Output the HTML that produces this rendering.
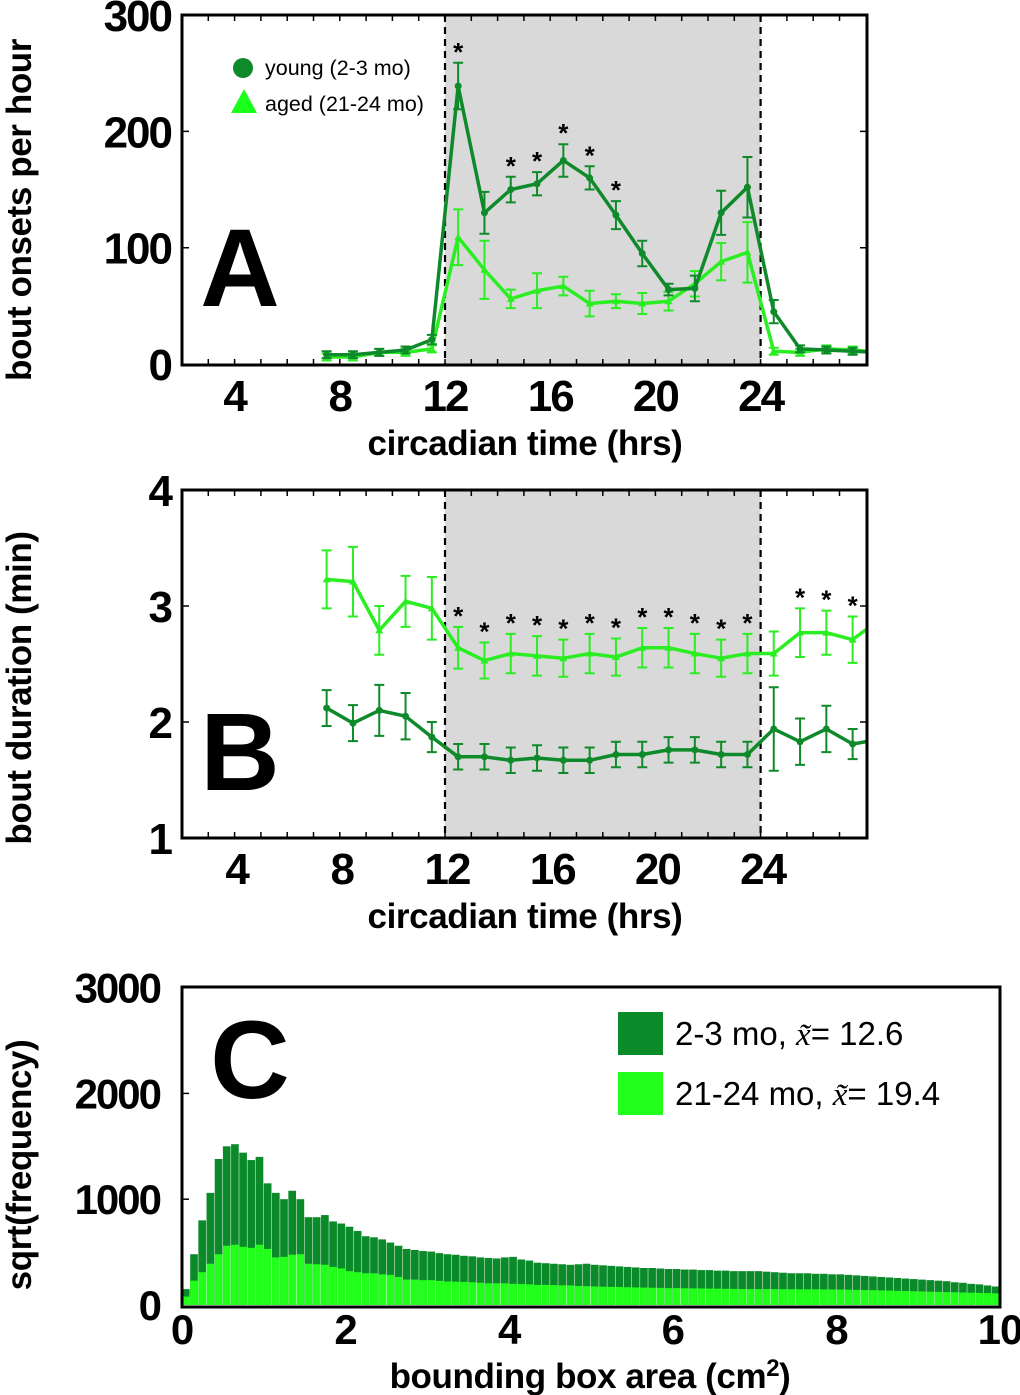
<!DOCTYPE html>
<html><head><meta charset="utf-8"><style>
html,body{margin:0;padding:0;background:#fff;}
svg{display:block;font-family:"Liberation Sans",Arial,sans-serif;}
.tk{font-weight:bold;font-size:44px;letter-spacing:-2px;}
.tt{font-weight:bold;font-size:35px;letter-spacing:-0.4px;}
</style></head><body>
<svg id="fig" width="1020" height="1395" viewBox="0 0 1020 1395" xmlns="http://www.w3.org/2000/svg">
<defs>
<clipPath id="clipA"><rect x="182" y="15" width="685" height="350"/></clipPath>
<clipPath id="clipB"><rect x="183" y="490" width="685" height="348"/></clipPath>
</defs>
<g id="panelA"></g>
<g id="panelB"></g>
<g id="panelC"></g>
</svg>
<script>
// ---- Panel A data ----
const hoursAB = [7.5,8.5,9.5,10.5,11.5,12.5,13.5,14.5,15.5,16.5,17.5,18.5,19.5,20.5,21.5,22.5,23.5,24.5,25.5,26.5,27.5,28.5];
const youngA = [8,8,10,12,21,239,130,150,155,175,160,128,95,64,65,130,152,45,13,12,11,10];
const youngAErr = [3,3,3,3,4,20,18,11,10,14,10,12,11,5,11,19,26,10,3,3,3,3];
const agedA = [6,6,10,10,13,109,81,56,63,67,52,54,52,54,69,88,96,11,10,13,12,10];
const agedAErr = [3,3,3,3,3,24,25,8,15,8,11,6,9,8,11,16,26,3,3,3,3,3];
const starsA = [12.5,14.5,15.5,16.5,17.5,18.5];
const yTicksA = [0,100,200,300];
const xTicks = [4,8,12,16,20,24];
// ---- Panel B data ----
const youngB = [2.12,1.99,2.10,2.05,1.87,1.70,1.70,1.67,1.69,1.67,1.67,1.72,1.72,1.76,1.76,1.72,1.72,1.94,1.83,1.94,1.81,1.85];
const youngBErr = [0.155,0.155,0.22,0.2,0.13,0.11,0.11,0.11,0.11,0.11,0.11,0.11,0.11,0.11,0.11,0.11,0.11,0.36,0.2,0.2,0.13,0.13];
const agedB = [3.23,3.21,2.79,3.04,2.98,2.64,2.53,2.59,2.57,2.55,2.59,2.56,2.64,2.64,2.59,2.55,2.59,2.59,2.77,2.77,2.71,2.88];
const agedBErr = [0.25,0.3,0.21,0.22,0.27,0.18,0.155,0.17,0.17,0.16,0.17,0.16,0.17,0.17,0.17,0.16,0.17,0.19,0.21,0.19,0.2,0.2];
const starsB = [12.5,13.5,14.5,15.5,16.5,17.5,18.5,19.5,20.5,21.5,22.5,23.5,25.5,26.5,27.5];
const yTicksB = [1,2,3,4];
// ---- Panel C data (bins of 0.1 cm^2) ----
const histYoung = [150,480,800,1060,1380,1500,1520,1440,1370,1400,1150,1060,1000,1080,1000,830,830,850,790,770,
740,700,650,640,620,590,560,530,520,510,505,490,480,475,465,460,450,445,440,450,
455,430,420,400,395,390,385,380,385,390,380,375,370,365,360,355,350,350,345,340,
340,335,335,330,330,325,325,320,320,320,320,315,310,305,300,300,300,295,295,290,
290,285,280,275,270,265,260,255,250,245,240,235,230,225,215,210,200,195,185,175];
const histAged = [80,230,310,390,480,560,570,550,540,570,530,450,455,475,480,390,385,380,360,345,
320,310,300,300,290,285,265,240,240,235,235,228,222,220,218,215,210,205,205,205,
200,198,195,190,190,188,186,185,180,178,175,173,171,170,168,166,165,163,162,160,
160,158,157,156,155,154,153,152,151,150,150,150,150,149,149,148,148,148,147,147,
146,145,143,141,140,138,136,134,132,130,128,126,124,122,120,118,116,114,112,110];
const yTicksC = [0,1000,2000,3000];
const xTicksC = [0,2,4,6,8,10];

const NS = "http://www.w3.org/2000/svg";
const DARK = "#0f8a2a", LIGHT = "#2aee22";
function mk(parent, tag, attrs, text){
  const e = document.createElementNS(NS, tag);
  for (const k in attrs) e.setAttribute(k, attrs[k]);
  if (text !== undefined) e.textContent = text;
  parent.appendChild(e);
  return e;
}
const xT = t => 182 + (t - 2) * 26.3;
const yA = v => 364 - v * 1.163;
const yB = v => 838 - (v - 1) * 116;
const xC = a => 182 + a * 81.8;
const yC = v => 1305 - v * 0.1058;

function timePanel(g, top, bot, yf, yticks, young, yErr, aged, aErr, stars, clipId, tickLabelDx, letter, letterY, ytitle, ytitleY){
  const L = 182, R = 867;
  let e;
  e = mk(g, "rect", {x: xT(12), y: top, width: xT(24) - xT(12), height: bot - top, fill: "#d9d9d9"});
  
  
  [12, 24].forEach(t => {
    e = mk(g, "line", {x1: xT(t), x2: xT(t), y1: top, y2: bot, stroke: "#000", "stroke-width": 2.2, "stroke-dasharray": "7,5"});
    
    
  });
  for (let t = 3; t <= 27; t++) {
    e = mk(g, "path", {d: `M${xT(t)},${bot}v-6M${xT(t)},${top}v6`, stroke: "#000", "stroke-width": 1.5});
    
    
  }
  yticks.forEach((v, i) => {
    if (i > 0 && i < yticks.length - 1) {
      e = mk(g, "path", {d: `M${L},${yf(v)}h7M${R},${yf(v)}h-7`, stroke: "#000", "stroke-width": 1.5});
      
      
    }
    e = mk(g, "text", {x: 171, y: yf(v) + 16, "text-anchor": "end", class: "tk"}, String(v));
    
    
  });
  xTicks.forEach(t => {
    e = mk(g, "text", {x: xT(t) + tickLabelDx, y: bot + 46, "text-anchor": "middle", class: "tk"}, String(t));
    
    
  });
  const series = [
    {vals: aged, err: aErr, col: LIGHT, name: 'aged'},
    {vals: young, err: yErr, col: DARK, name: 'young'}
  ];
  const sg = mk(g, "g", {"clip-path": `url(#${clipId})`});
  series.forEach(s => {
    s.vals.forEach((v, i) => {
      const x = xT(hoursAB[i]), y1 = yf(v + s.err[i]), y2 = yf(v - s.err[i]);
      e = mk(sg, "path", {d: `M${x},${y1}V${y2}M${x-5},${y1}h10M${x-5},${y2}h10`, stroke: s.col, "stroke-width": 2, fill: "none"});
      
      
    });
    const pts = s.vals.map((v, i) => `${xT(hoursAB[i])},${yf(v)}`).join(" ");
    e = mk(sg, "polyline", {points: pts, fill: "none", stroke: s.col, "stroke-width": 3.5, "stroke-linejoin": "round"});
    
    
    s.vals.forEach((v, i) => {
      const x = xT(hoursAB[i]), y = yf(v);
      if (s.name === 'young') e = mk(sg, "circle", {cx: x, cy: y, r: 3.5, fill: s.col});
      else e = mk(sg, "path", {d: `M${x},${y-4}l4,7h-8z`, fill: s.col});
      
      
    });
  });
  stars.forEach(t => {
    const i = hoursAB.indexOf(t);
    const top1 = Math.min(yf(young[i] + yErr[i]), yf(aged[i] + aErr[i]));
    e = mk(g, "text", {x: xT(t), y: top1 - 2, "text-anchor": "middle", "font-size": 26, "font-weight": "bold"}, "*");
    
    
  });
  e = mk(g, "rect", {x: L, y: top, width: R - L, height: bot - top, fill: "none", stroke: "#000", "stroke-width": 3});
  
  
  e = mk(g, "text", {x: 525, y: bot + 90, "text-anchor": "middle", class: "tt"}, "circadian time (hrs)");
  
  
  e = mk(g, "text", {x: 0, y: 0, "text-anchor": "middle", class: "tt", transform: `translate(31,${ytitleY}) rotate(-90)`}, ytitle);
  
  
  e = mk(g, "text", {x: 240, y: letterY, "text-anchor": "middle", "font-size": 110, "font-weight": "bold"}, letter);
  
  
}

const gA = document.getElementById("panelA");
timePanel(gA, 15, 365, yA, yTicksA, youngA, youngAErr, agedA, agedAErr, starsA, "clipA", 0, "A", 306, "bout onsets per hour", 210);
let le;
le = mk(gA, "circle", {cx: 243, cy: 68, r: 10, fill: DARK});


le = mk(gA, "text", {x: 265, y: 75, "font-size": 21.5}, "young (2-3 mo)");


le = mk(gA, "path", {d: "M244,89l13,24h-26z", fill: "#1aff1a"});


le = mk(gA, "text", {x: 265, y: 111, "font-size": 21.5}, "aged (21-24 mo)");



const gB = document.getElementById("panelB");
timePanel(gB, 490, 838, yB, yTicksB, youngB, youngBErr, agedB, agedBErr, starsB, "clipB", 2, "B", 790, "bout duration (min)", 688);

// ---- Panel C ----
const gC = document.getElementById("panelC");
let ce;
const bw = 0.1;
[{vals: histYoung, col: "#0b8a2a", name: 'young-bar'}, {vals: histAged, col: "#22ff1a", name: 'aged-bar'}].forEach(s => {
  s.vals.forEach((v, i) => {
    const x0 = xC(i * bw), x1 = xC((i + 1) * bw);
    ce = mk(gC, "rect", {x: x0, y: yC(v), width: x1 - x0 - 0.5, height: yC(0) - yC(v), fill: s.col});
    
    
  });
});
yTicksC.forEach((v, i) => {
  if (i > 0 && i < yTicksC.length - 1) {
    ce = mk(gC, "path", {d: `M182,${yC(v)}h7`, stroke: "#000", "stroke-width": 1.5});
    
    
  }
  ce = mk(gC, "text", {x: 160, y: yC(v) + 15, "text-anchor": "end", "font-size": 42, "font-weight": "bold", "letter-spacing": "-2"}, String(v));
  
  
});
xTicksC.forEach(a => {
  ce = mk(gC, "text", {x: xC(a), y: 1344, "text-anchor": "middle", "font-size": 42, "font-weight": "bold", "letter-spacing": "-1"}, String(a));
  
  
});
ce = mk(gC, "rect", {x: 182, y: 987, width: 818, height: 320, fill: "none", stroke: "#000", "stroke-width": 3});


ce = mk(gC, "text", {x: 590, y: 1388, "text-anchor": "middle", class: "tt"});


ce.innerHTML = 'bounding box area (cm<tspan dy="-12" font-size="24">2</tspan><tspan dy="12">)</tspan>';
ce = mk(gC, "text", {x: 0, y: 0, "text-anchor": "middle", class: "tt", transform: "translate(31,1165) rotate(-90)"}, "sqrt(frequency)");


ce = mk(gC, "text", {x: 250, y: 1098, "text-anchor": "middle", "font-size": 110, "font-weight": "bold"}, "C");


ce = mk(gC, "rect", {x: 618, y: 1012, width: 45, height: 43, fill: "#0b8a2a"});


ce = mk(gC, "rect", {x: 618, y: 1072, width: 45, height: 43, fill: "#22ff1a"});


ce = mk(gC, "text", {x: 675, y: 1045, "font-size": 33});


ce.innerHTML = '2-3 mo, <tspan font-family="Liberation Serif, serif" font-style="italic">x̃</tspan>= 12.6';
ce = mk(gC, "text", {x: 675, y: 1105, "font-size": 33});


ce.innerHTML = '21-24 mo, <tspan font-family="Liberation Serif, serif" font-style="italic">x̃</tspan>= 19.4';
</script>
</body></html>
